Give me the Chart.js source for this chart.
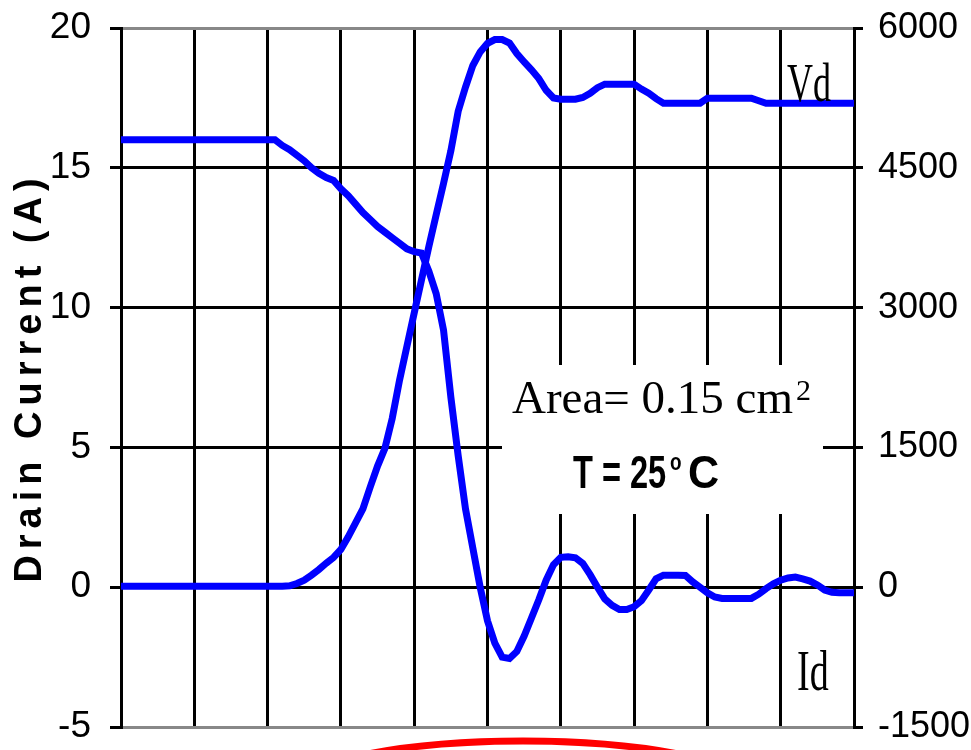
<!DOCTYPE html>
<html>
<head>
<meta charset="utf-8">
<title>Drain current and voltage at turn-off</title>
<script src="https://cdn.jsdelivr.net/npm/chart.js@4.4.1/dist/chart.umd.min.js"></script>
<style>
  body { margin: 0; background: #ffffff; }
  #myChart { display: block; }
</style>
</head>
<body>
<canvas id="myChart" width="971" height="750"></canvas>
<script>
// time axis (arbitrary units, 10 divisions across the plot)
const time = [0, 2, 4, 6, 8, 10, 12, 14, 16, 18, 20,
  21, 22, 23, 24, 25, 26, 27, 28, 29, 30,
  31, 32, 33, 34, 35, 36, 37, 38, 39, 40,
  41, 42, 43, 44, 45, 46, 47, 48, 49, 50,
  51, 52, 53, 54, 55, 56, 57, 58, 59, 60,
  61, 62, 63, 64, 65, 66, 67, 68, 69, 70,
  71, 72, 73, 74, 75, 76, 77, 78, 79, 80,
  81, 82, 83, 84, 85, 86, 87, 88, 89, 90,
  91, 92, 93, 94, 95, 96, 97, 98, 99, 100];

// drain current, A (left axis)
const idAmps = [16, 16, 16, 16, 16, 16, 16, 16, 16, 16, 16,
  16, 15.8, 15.65, 15.45, 15.25, 15.0, 14.8, 14.65, 14.55, 14.25,
  14.0, 13.7, 13.4, 13.15, 12.9, 12.7, 12.5, 12.3, 12.1, 12.0,
  11.95, 11.3, 10.5, 9.2, 6.8, 4.7, 2.8, 1.4, 0, -1.2,
  -2.0, -2.5, -2.55, -2.3, -1.75, -1.1, -0.45, 0.25, 0.8, 1.07,
  1.09, 1.05, 0.85, 0.45, 0.0, -0.42, -0.65, -0.8, -0.8, -0.7,
  -0.48, -0.1, 0.3, 0.43, 0.43, 0.43, 0.42, 0.19, 0.0, -0.2,
  -0.35, -0.4, -0.4, -0.4, -0.4, -0.4, -0.25, -0.05, 0.12, 0.25,
  0.33, 0.36, 0.3, 0.22, 0.08, -0.1, -0.18, -0.2, -0.2, -0.2];

// drain voltage, V (right axis)
const vdVolts = [10, 10, 10, 10, 10, 10, 10, 10, 10, 10, 10,
  10, 10, 15, 40, 75, 130, 190, 258, 320, 405,
  540, 690, 840, 1075, 1300, 1490, 1810, 2221, 2582, 2943,
  3298, 3656, 3996, 4332, 4682, 5106, 5366, 5598, 5743, 5835,
  5876, 5876, 5838, 5726, 5635, 5552, 5457, 5332, 5250, 5236,
  5236, 5236, 5255, 5300, 5360, 5397, 5397, 5397, 5397, 5397,
  5344, 5300, 5242, 5193, 5193, 5193, 5193, 5193, 5193, 5247,
  5247, 5247, 5247, 5247, 5247, 5247, 5220, 5193, 5193, 5193,
  5193, 5193, 5193, 5193, 5193, 5193, 5193, 5193, 5193, 5193];

const leftTicks = [-5, 0, 5, 10, 15, 20];
const rightTicks = [-1500, 0, 1500, 3000, 4500, 6000];

const sansFont = '"Liberation Sans", Arial, sans-serif';
const serifFont = '"Liberation Serif", "Times New Roman", serif';

// draws a string squeezed/stretched like the original scan
function drawText(ctx, text, x, y, font, sx, sy) {
  ctx.save();
  ctx.font = font;
  ctx.translate(x, y);
  ctx.scale(sx, sy);
  ctx.fillText(text, 0, 0);
  ctx.restore();
}

// white label box, the notes and the red ring drawn over the chart
const notesPlugin = {
  id: 'notes',
  beforeDraw(chart) {
    // wide spacing for the axis title (drawn with the grid layer)
    chart.ctx.letterSpacing = '6px';
  },
  beforeDatasetsDraw(chart) {
    const ctx = chart.ctx;
    ctx.letterSpacing = '0px';
    ctx.save();
    ctx.fillStyle = '#ffffff';
    ctx.fillRect(502, 365, 321, 149);

    ctx.fillStyle = '#000000';
    ctx.textBaseline = 'alphabetic';
    ctx.textAlign = 'left';
    drawText(ctx, 'Area= 0.15 cm', 512, 413, '47px ' + serifFont, 1, 1);
    drawText(ctx, '2', 796, 400, '30px ' + serifFont, 1, 1);

    drawText(ctx, 'T = 25', 573, 488, 'bold 44px ' + sansFont, 0.74, 1.05);
    drawText(ctx, 'o', 670, 470, 'bold 21px ' + sansFont, 0.9, 1.1);
    drawText(ctx, 'C', 688, 488, 'bold 44px ' + sansFont, 0.98, 1.05);
    ctx.restore();
  },
  afterDraw(chart) {
    const ctx = chart.ctx;
    ctx.save();
    ctx.fillStyle = '#000000';
    ctx.textAlign = 'left';
    ctx.textBaseline = 'alphabetic';
    // tall, narrow series labels
    drawText(ctx, 'Vd', 787, 101, '36px ' + serifFont, 1, 1.5);
    drawText(ctx, 'Id', 797, 690, '38px ' + serifFont, 1, 1.5);

    ctx.strokeStyle = '#ff0000';
    ctx.lineWidth = 7;
    ctx.beginPath();
    ctx.ellipse(523, 796, 240, 55, 0, 0, Math.PI * 2);
    ctx.stroke();
    ctx.restore();
  }
};

function noEdgePadding(scale, width) {
  scale.width = width;
  scale.paddingTop = 0;
  scale.paddingBottom = 0;
}

const data = {
  datasets: [{
    label: 'Id',
    data: time.map((t, i) => ({ x: t, y: idAmps[i] })),
    yAxisID: 'y',
    borderColor: '#0000ff',
    backgroundColor: '#0000ff',
    borderWidth: 7,
    pointRadius: 0,
    tension: 0,
    fill: false
  }, {
    label: 'Vd',
    data: time.map((t, i) => ({ x: t, y: vdVolts[i] })),
    yAxisID: 'y1',
    borderColor: '#0000ff',
    backgroundColor: '#0000ff',
    borderWidth: 7,
    pointRadius: 0,
    tension: 0,
    fill: false
  }]
};

const config = {
  type: 'line',
  data: data,
  options: {
    responsive: false,
    animation: false,
    layout: { padding: { top: 28, left: 0, right: 0, bottom: 0 } },
    plugins: {
      legend: { display: false },
      tooltip: { enabled: false }
    },
    scales: {
      x: {
        type: 'linear',
        min: 0,
        max: 100,
        ticks: { display: false, stepSize: 10 },
        grid: { color: '#000000', lineWidth: 3, drawTicks: false },
        border: { color: '#888888', width: 3 },
        afterFit: function (scale) { scale.height = 23; }
      },
      y: {
        position: 'left',
        min: leftTicks[0],
        max: leftTicks[leftTicks.length - 1],
        afterBuildTicks: function (scale) { scale.ticks = leftTicks.map(v => ({ value: v })); },
        ticks: {
          z: 1,
          color: '#000000',
          padding: 19,
          font: { family: sansFont, size: 37 },
          callback: function (value) { return String(value); }
        },
        grid: {
          color: function (ctx) {
            const v = ctx.tick ? ctx.tick.value : 0;
            return (v === 20 || v === -5) ? '#888888' : '#000000';
          },
          tickColor: '#000000',
          lineWidth: 3,
          tickLength: 11
        },
        border: { color: '#000000', width: 3 },
        title: {
          display: true,
          text: 'Drain Current (A)',
          color: '#000000',
          font: { family: sansFont, size: 38, weight: 'bold' },
          padding: { top: 8, bottom: 0 }
        },
        afterFit: function (scale) { noEdgePadding(scale, 121); }
      },
      y1: {
        position: 'right',
        min: rightTicks[0],
        max: rightTicks[rightTicks.length - 1],
        afterBuildTicks: function (scale) { scale.ticks = rightTicks.map(v => ({ value: v })); },
        ticks: {
          z: 1,
          color: '#000000',
          padding: 15,
          font: { family: sansFont, size: 36 },
          callback: function (value) { return String(value); }
        },
        grid: {
          drawOnChartArea: false,
          color: '#000000',
          lineWidth: 3,
          tickLength: 9
        },
        border: { color: '#000000', width: 3 },
        afterFit: function (scale) { noEdgePadding(scale, 117); }
      }
    }
  },
  plugins: [notesPlugin]
};

const myChart = new Chart(document.getElementById('myChart'), config);
</script>
</body>
</html>
